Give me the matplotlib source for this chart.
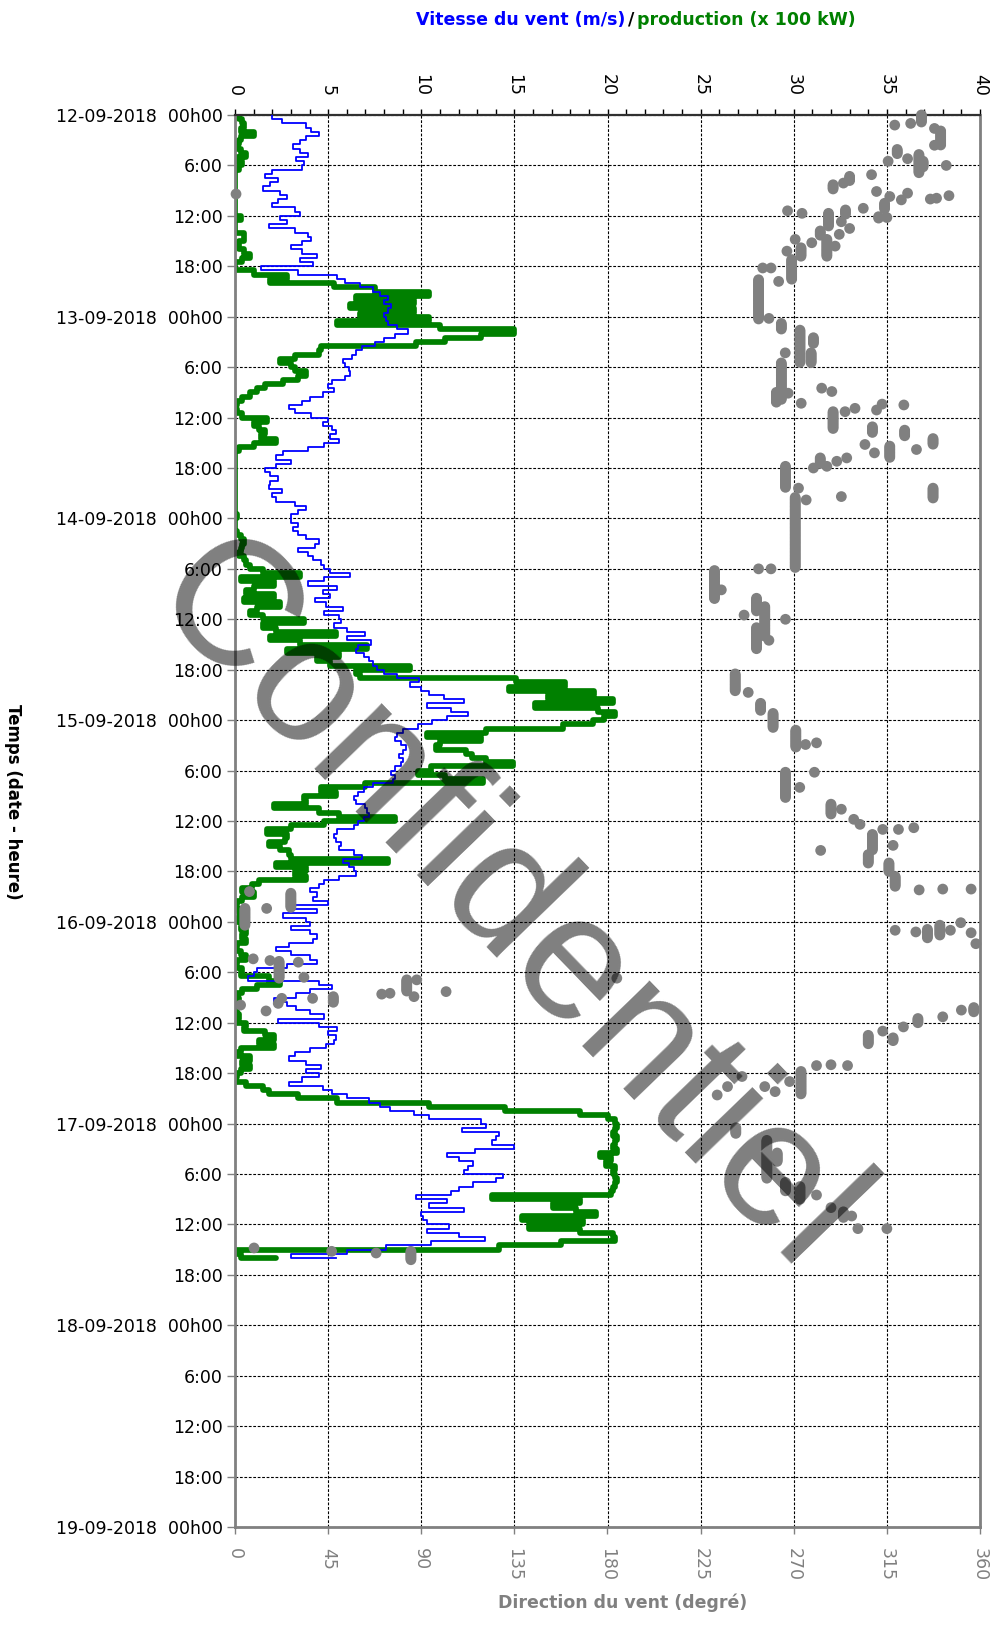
import numpy as np
import matplotlib
matplotlib.use("Agg")
import matplotlib.pyplot as plt
from matplotlib.ticker import MultipleLocator

plt.rcParams['font.family'] = ['DejaVu Sans']

# Wind speed (m/s), one value every 30 min, day by day
wind_12 = [2.0, 2.5, 3.8, 4.1, 4.5, 3.8, 3.5, 3.1, 3.5, 3.9, 3.3, 3.7, 3.6, 2.0, 1.6, 2.3,
           1.9, 1.5, 2.4, 2.8, 2.3, 2.0, 3.2, 3.5, 2.4, 2.8, 1.8, 3.2, 3.9, 4.1, 3.6, 3.0,
           3.6, 4.4, 3.5, 4.2, 1.4, 3.4, 5.5, 5.9, 6.7, 7.4, 7.8, 8.2, 8.0, 8.4, 8.2, 8.0]
wind_13 = [8.1, 8.2, 8.7, 9.3, 8.6, 8.0, 7.5, 6.8, 6.5, 6.3, 5.8, 5.9, 6.1, 6.2, 5.9, 5.2,
           5.0, 5.3, 4.7, 4.0, 3.6, 2.9, 3.2, 4.1, 5.0, 4.7, 5.2, 5.4, 5.1, 5.6, 4.8, 3.9,
           2.6, 2.2, 3.0, 2.2, 1.6, 1.9, 2.3, 1.9, 1.8, 2.5, 2.0, 2.2, 3.2, 3.8, 3.4, 3.0]
wind_14 = [3.0, 3.4, 3.1, 3.4, 3.8, 4.5, 4.3, 3.4, 3.9, 4.2, 4.6, 4.8, 5.1, 6.2, 4.8, 3.9,
           5.5, 4.7, 5.1, 4.3, 4.9, 5.8, 4.8, 5.6, 5.7, 5.3, 6.0, 7.0, 6.0, 7.3, 6.6, 6.5,
           6.9, 7.2, 7.4, 7.6, 8.0, 8.7, 9.9, 9.4, 10.0, 10.4, 11.2, 12.3, 10.3, 11.6, 12.5, 11.4]
wind_15 = [10.6, 9.8, 9.0, 8.7, 8.6, 8.9, 9.2, 9.0, 8.8, 9.0, 8.9, 8.6, 8.4, 8.6, 8.5, 7.4,
           6.9, 6.6, 6.4, 6.5, 7.0, 7.1, 7.2, 6.9, 6.6, 6.4, 5.5, 5.3, 5.4, 5.7, 5.6, 6.4,
           6.8, 5.8, 6.1, 6.4, 6.5, 5.6, 4.8, 4.5, 4.0, 4.4, 4.2, 5.0, 3.0, 4.4, 2.6, 3.8]
wind_16 = [4.0, 3.0, 4.0, 4.4, 4.2, 2.9, 2.2, 3.0, 4.0, 4.4, 2.8, 1.2, 1.0, 0.7, 4.5, 5.2,
           4.0, 3.3, 2.1, 2.8, 3.3, 4.0, 4.8, 2.3, 4.5, 5.5, 5.0, 5.4, 5.3, 4.9, 4.0, 3.2,
           2.9, 3.8, 4.6, 3.8, 4.5, 3.6, 2.9, 4.7, 5.2, 6.0, 7.2, 7.8, 8.3, 9.6, 10.4, 13.2]
wind_17 = [13.5, 12.2, 14.2, 14.0, 13.8, 15.0, 12.9, 11.4, 12.0, 12.8, 12.5, 12.3, 14.4, 14.0,
           12.8, 12.0, 11.6, 9.7, 11.4, 10.4, 12.3, 10.0, 10.1, 10.3, 11.5, 10.3, 12.0, 13.4,
           10.5, 8.1, 6.0, 3.0, 5.4]

# Production (x 100 kW), one value every 30 min
prod_12 = [0.2, 0.4, 0.5, 0.3, 1.0, 0.3, 0.2, 0.1, 0.3, 0.6, 0.1, 0.4, 0.2, 0.0, 0.0, 0.0,
           0.0, 0.0, 0.0, 0.0, 0.0, 0.0, 0.0, 0.0, 0.3, 0.0, 0.0, 0.0, 0.5, 0.5, 0.2, 0.2,
           0.5, 0.8, 0.4, 0.0, 0.0, 1.0, 2.8, 1.9, 5.3, 7.5, 10.4, 6.5, 9.6, 6.2, 9.6, 6.7]
prod_13 = [10.4, 5.5, 11.0, 15.0, 13.2, 11.3, 9.7, 4.6, 4.5, 3.2, 2.4, 3.0, 3.2, 3.8, 3.4, 2.6,
           1.6, 1.2, 0.8, 0.4, 0.1, 0.0, 0.1, 0.4, 1.7, 1.0, 1.3, 1.6, 1.4, 2.2, 1.0, 0.2,
           0.0, 0.0, 0.0, 0.0, 0.0, 0.0, 0.0, 0.0, 0.0, 0.0, 0.0, 0.0, 0.0, 0.0, 0.0, 0.1]
prod_14 = [0.0, 0.0, 0.0, 0.1, 0.3, 0.5, 0.4, 0.3, 0.2, 0.5, 0.6, 0.8, 1.5, 3.5, 0.3, 2.1,
           1.0, 0.6, 2.1, 0.5, 2.4, 1.2, 0.8, 1.5, 3.7, 1.5, 2.2, 5.4, 1.9, 3.5, 7.1, 2.8,
           5.6, 4.4, 5.1, 9.4, 6.5, 6.7, 15.1, 17.7, 14.7, 19.3, 16.8, 20.3, 16.1, 19.5, 20.4, 19.8]
prod_15 = [19.2, 17.6, 13.5, 10.3, 13.2, 11.0, 10.8, 12.4, 12.7, 13.5, 14.9, 10.5, 9.8, 11.3,
           13.3, 7.0, 4.6, 5.4, 3.7, 3.8, 2.1, 4.5, 5.6, 8.6, 4.8, 3.0, 1.7, 2.8, 2.7, 1.8,
           2.4, 2.9, 3.0, 8.2, 2.2, 3.8, 3.2, 3.8, 1.3, 0.9, 0.4, 1.0, 0.4, 0.1, 0.0, 0.2, 0.5, 0.1]
prod_16 = [0.4, 0.3, 0.6, 0.4, 0.6, 0.1, 0.0, 0.3, 0.6, 0.1, 0.0, 0.4, 0.3, 1.8, 2.4, 1.2,
           0.4, 0.1, 0.2, 0.0, 0.1, 0.0, 0.2, 0.0, 0.6, 0.5, 1.6, 2.1, 1.3, 2.1, 0.3, 0.1,
           0.8, 0.4, 0.8, 0.3, 0.1, 0.0, 0.6, 1.5, 1.8, 3.4, 5.5, 10.4, 14.5, 18.5, 20.0, 20.4]
prod_17 = [20.5, 20.4, 20.3, 20.5, 20.4, 20.3, 20.5, 19.6, 20.2, 19.9, 20.4, 20.3, 20.4, 20.5,
           20.4, 20.3, 20.2, 13.8, 18.5, 17.1, 18.3, 19.4, 15.4, 18.7, 15.8, 18.5, 20.3, 20.4,
           17.5, 14.2, 0.0, 0.3, 2.2]

# Wind direction (degrees): runs of equal readings as (start hour, end hour, degrees),
# hours counted from 12-09-2018 00h00
dir_runs_12 = [(0.0, 0.9, 331.7), (1.0, 1.0, 326.5), (1.2, 1.2, 318.8), (1.6, 1.6, 338.0),
               (1.9, 3.6, 341.0), (3.6, 3.6, 338.0), (4.1, 4.7, 320.0), (5.2, 5.2, 325.0),
               (4.7, 6.9, 330.5), (5.5, 6.3, 332.5), (6.0, 6.0, 343.7), (5.5, 5.5, 315.6),
               (7.1, 7.1, 307.6), (7.3, 7.9, 297.0), (8.1, 8.1, 294.0), (8.3, 8.9, 289.0),
               (9.1, 9.1, 310.0), (9.7, 9.7, 316.4), (10.5, 11.3, 313.9), (10.1, 10.1, 322.0),
               (9.3, 9.3, 325.0), (10.0, 10.0, 336.0), (9.9, 9.9, 339.0), (9.6, 9.6, 345.0),
               (9.4, 9.4, 0.5), (11.1, 11.1, 303.6), (11.3, 11.9, 295.0), (12.1, 12.3, 311.0),
               (12.2, 12.2, 315.0), (11.4, 11.4, 267.0), (11.7, 11.7, 274.0),
               (11.7, 13.3, 286.8), (12.7, 12.7, 293.0), (13.5, 13.5, 297.0),
               (14.2, 14.2, 292.0), (13.8, 14.4, 282.8), (15.2, 15.2, 278.7),
               (14.8, 16.8, 286.0), (15.6, 15.6, 290.0), (14.8, 14.8, 270.7),
               (16.2, 16.2, 266.7), (15.8, 16.8, 273.5), (17.2, 19.6, 269.0),
               (18.2, 18.2, 255.0), (18.2, 18.2, 259.0), (19.8, 19.8, 262.7), (19.6, 24.4, 253.0)]
dir_runs_13 = [(24.2, 24.2, 258.0), (24.8, 25.6, 264.0), (25.6, 29.5, 273.0), (26.5, 27.3, 279.5),
               (28.3, 28.3, 265.9), (28.3, 29.5, 278.4), (29.5, 33.9, 264.0), (33.0, 34.3, 261.6),
               (33.1, 33.1, 267.3), (34.3, 34.3, 273.6), (32.5, 32.5, 283.5), (32.9, 32.9, 288.4),
               (35.3, 37.3, 289.0), (35.3, 35.3, 294.8), (34.9, 34.9, 299.6), (35.1, 35.1, 310.0),
               (34.4, 34.4, 312.7), (34.5, 34.5, 323.2), (37.1, 37.9, 308.0), (39.2, 39.2, 304.4),
               (40.2, 40.2, 309.0), (39.4, 40.8, 316.4), (37.5, 38.3, 323.6), (39.8, 39.8, 329.3),
               (38.5, 39.2, 337.3), (44.4, 45.6, 337.3), (40.8, 41.6, 282.8), (41.8, 41.8, 286.0),
               (42.0, 42.0, 279.5), (41.2, 41.2, 290.8), (40.8, 40.8, 295.6), (41.8, 44.4, 266.0),
               (44.4, 44.4, 272.3), (45.8, 45.8, 276.0), (45.4, 45.4, 293.0), (45.5, 53.9, 270.7)]
dir_runs_14 = [(54.2, 57.6, 231.7), (56.5, 56.5, 235.0), (54.0, 54.0, 253.0), (54.0, 54.0, 259.0),
               (57.5, 59.0, 252.0), (59.5, 59.5, 246.0), (58.5, 62.0, 256.0), (60.0, 60.0, 266.0),
               (61.0, 63.5, 252.0), (62.5, 62.5, 258.0), (66.5, 68.5, 241.7), (68.7, 68.7, 248.0),
               (70.0, 70.9, 254.0), (71.2, 73.0, 260.0)]
dir_runs_15 = [(73.2, 75.3, 271.0), (74.9, 74.9, 275.7), (74.7, 74.7, 281.0), (78.2, 81.3, 266.0),
               (80.0, 80.0, 272.9), (78.2, 78.2, 280.0), (82.0, 83.2, 288.0), (82.6, 82.6, 293.0),
               (83.8, 83.8, 299.0), (84.4, 84.4, 302.0), (87.5, 87.5, 283.0), (85.6, 87.5, 308.0),
               (85.0, 85.0, 313.0), (86.9, 86.9, 318.0), (85.0, 85.0, 320.6), (84.8, 84.8, 328.0),
               (88.0, 89.0, 306.0), (89.0, 90.0, 316.0), (90.6, 91.8, 319.0), (92.2, 92.2, 330.6),
               (92.1, 92.1, 342.0), (92.1, 92.1, 355.7), (92.4, 92.4, 7.0), (94.4, 94.4, 15.3),
               (92.6, 94.4, 27.0), (94.4, 96.4, 4.8)]
dir_runs_16 = [(97.0, 97.0, 319.0), (97.2, 97.2, 329.0), (96.9, 97.9, 334.6), (96.4, 97.6, 340.6),
               (97.0, 97.0, 345.7), (96.1, 96.1, 350.7), (97.3, 97.3, 355.7), (98.6, 98.6, 358.0),
               (100.4, 100.4, 8.8), (100.6, 100.6, 16.9), (100.7, 102.7, 21.3), (100.8, 100.8, 30.6),
               (102.6, 102.6, 33.3), (105.1, 105.1, 22.6), (105.7, 105.7, 20.9), (105.9, 105.9, 2.7),
               (106.6, 106.6, 15.0), (105.1, 105.1, 37.5), (104.9, 105.7, 47.5), (104.6, 104.6, 70.9),
               (104.5, 104.5, 74.9), (102.9, 104.3, 83.0), (102.9, 102.9, 87.8), (104.9, 104.9, 86.5),
               (104.3, 104.3, 102.0), (102.7, 102.7, 184.5),
               (106.2, 106.8, 357.0), (106.5, 106.5, 351.0), (107.3, 107.3, 342.0),
               (107.5, 108.0, 330.0), (108.5, 108.5, 323.0), (109.0, 109.0, 313.0),
               (109.8, 110.2, 318.0), (109.5, 110.5, 306.0), (113.1, 113.1, 296.0),
               (113.0, 113.0, 288.0), (113.1, 113.1, 281.0), (113.8, 116.6, 273.5),
               (115.0, 115.0, 268.0), (116.2, 116.2, 261.0), (115.6, 115.6, 256.0),
               (114.4, 114.4, 245.0), (115.6, 115.6, 238.0), (116.6, 116.6, 233.0)]
dir_runs_17 = [(120.5, 121.2, 242.0), (122.0, 126.5, 257.0), (123.5, 124.5, 262.0),
               (127.0, 128.0, 266.0), (127.5, 129.0, 273.0), (128.5, 128.5, 281.0),
               (130.0, 130.0, 288.0), (130.5, 131.2, 294.0), (131.0, 131.0, 298.0),
               (132.5, 132.5, 301.0), (132.5, 132.5, 315.0), (134.8, 134.8, 9.2),
               (135.2, 135.2, 46.7), (135.4, 135.4, 68.2), (135.2, 136.2, 85.0)]

speed_ticks = list(range(0, 41, 5))
direction_ticks = list(range(0, 361, 45))
day_names = ["12-09-2018", "13-09-2018", "14-09-2018", "15-09-2018",
             "16-09-2018", "17-09-2018", "18-09-2018", "19-09-2018"]

wind = np.array(wind_12 + wind_13 + wind_14 + wind_15 + wind_16 + wind_17)
prod = np.array(prod_12 + prod_13 + prod_14 + prod_15 + prod_16 + prod_17)
t_wind = np.arange(len(wind)) * 0.5
t_prod = np.arange(len(prod)) * 0.5


def vertical_steps(values, times):
    """Hold each reading until the next timestamp (steps along the time axis)."""
    xs = np.repeat(values, 2)[:-1]
    ys = np.repeat(times, 2)[1:]
    return xs, ys


runs = dir_runs_12 + dir_runs_13 + dir_runs_14 + dir_runs_15 + dir_runs_16 + dir_runs_17
dir_t, dir_v = [], []
for t0, t1, deg in runs:
    ts = np.arange(t0, t1 + 1e-6, 1.0 / 6.0) if t1 > t0 else np.array([t0])
    dir_t.extend(ts)
    dir_v.extend([deg] * len(ts))

GREY = '#808080'
fig = plt.figure(figsize=(9.97, 16.28), dpi=100)
ax = fig.add_axes([235 / 997, 1 - 1527 / 1628, 745 / 997, 1412 / 1628])
ax2 = ax.twiny()

px, py = vertical_steps(prod, t_prod)
wx, wy = vertical_steps(wind, t_wind)
ax.plot(px, py, color='#008000', lw=4.1, solid_joinstyle='round', solid_capstyle='round', zorder=2)
ax.plot(wx, wy, color='#0000ff', lw=1.3, zorder=3)

# speed / production scale on top
ax.set_xlim(0, 40)
ax.set_ylim(168, 0)
ax.set_xticks(speed_ticks)
ax.xaxis.set_minor_locator(MultipleLocator(1))
ax.xaxis.set_ticks_position('top')
ax.tick_params(axis='x', which='both', direction='out', length=4, width=1, color='black',
               top=True, bottom=False, labeltop=True, labelbottom=False)
ax.tick_params(axis='x', which='major', labelrotation=-90, labelsize=12.5, pad=10,
               labelcolor='black')

hour_ticks = list(range(0, 169, 6))
hour_labels = [f"{day_names[h // 24]}  00h00" if h % 24 == 0 else f"{h % 24}:00" for h in hour_ticks]
ax.set_yticks(hour_ticks)
ax.set_yticklabels(hour_labels)
ax.tick_params(axis='y', direction='out', length=6, width=1, color=GREY, labelsize=12.5, pad=3,
               right=False)

ax.grid(True, which='major', color='black', linestyle=(0, (2.5, 1.5)), linewidth=0.8)

for side in ('left', 'right', 'bottom'):
    ax.spines[side].set_color(GREY)
    ax.spines[side].set_linewidth(2)
ax.spines['top'].set_color('#303030')
ax.spines['top'].set_linewidth(1.6)

# wind direction scale at the bottom
ax2.set_xlim(0, 360)
ax2.set_ylim(168, 0)
ax2.xaxis.set_ticks_position('bottom')
ax2.xaxis.set_label_position('bottom')
ax2.set_xticks(direction_ticks)
ax2.tick_params(axis='x', direction='out', length=5, width=1, color=GREY, labelcolor=GREY,
                labelrotation=-90, labelsize=12.5, pad=10, top=False, labeltop=False,
                bottom=True, labelbottom=True)
for side in ax2.spines:
    ax2.spines[side].set_visible(False)
ax2.scatter(dir_v, dir_t, s=60, color=GREY, edgecolors='none', zorder=4, clip_on=False)

# Titles and axis captions
fig.text(625 / 997, 1 - 20 / 1628, "Vitesse du vent (m/s)", color='#0000ff', weight='bold',
         fontsize=12.5, ha='right', va='center')
fig.text(631 / 997, 1 - 20 / 1628, "/", color='black', weight='bold', fontsize=12.5,
         ha='center', va='center')
fig.text(637 / 997, 1 - 20 / 1628, "production (x 100 kW)", color='#008000', weight='bold',
         fontsize=12.5, ha='left', va='center')
fig.text(13 / 997, 1 - 802 / 1628, "Temps (date - heure)", rotation=-90, weight='bold',
         fontsize=12, ha='center', va='center')
fig.text(623 / 997, 1 - 1603 / 1628, "Direction du vent (degré)", color=GREY, weight='bold',
         fontsize=12.5, ha='center', va='center')

# Watermark
fig.text(504 / 997, 1 - 908 / 1628, "Confidentiel", rotation=-46, rotation_mode='anchor',
         family='Liberation Sans', fontsize=128, color='black', alpha=0.5,
         ha='center', va='center')

fig.savefig("out.png", dpi=100)
